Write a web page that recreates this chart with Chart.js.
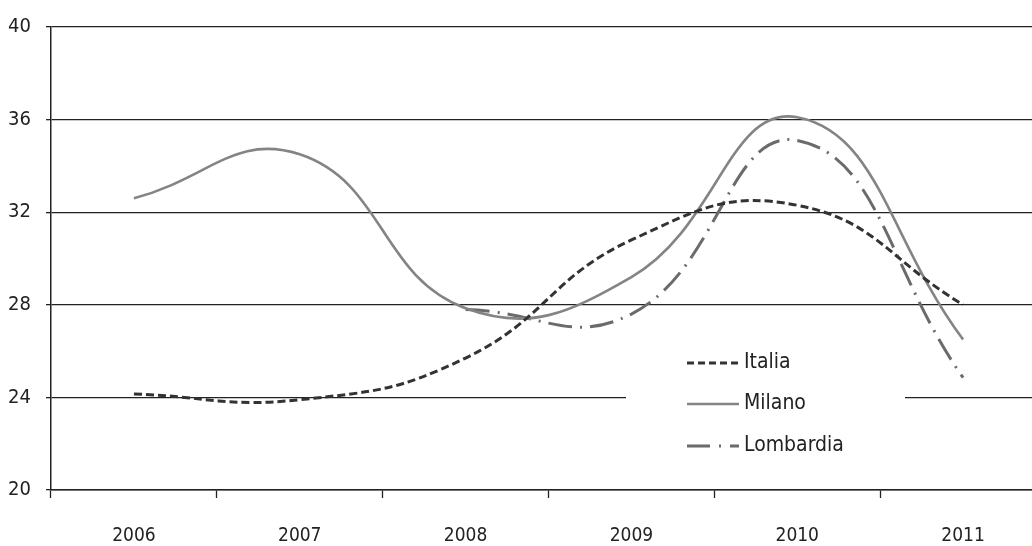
<!DOCTYPE html>
<html>
<head>
<meta charset="utf-8">
<script src="https://cdn.jsdelivr.net/npm/chart.js@4.4.1/dist/chart.umd.min.js"></script>
<style>
  html, body { margin: 0; padding: 0; background: #fff; overflow: hidden; }
  #wrap { width: 1046px; height: 546px; position: relative; }
</style>
</head>
<body>
<div id="wrap"><canvas id="c"></canvas></div>
<script>
const years = ['2006', '2007', '2008', '2009', '2010', '2011'];
const italia = [24.15, 23.9, 25.7, 30.8, 32.3, 28.0];
const milano = [32.6, 34.5, 27.85, 29.2, 36.1, 26.5];
const lombardia = [null, null, 27.8, 27.6, 35.1, 24.85];
const yTicks = [20, 24, 28, 32, 36, 40];

const FONT = '"Liberation Sans Narrow", "DejaVu Sans Condensed", "Liberation Sans", sans-serif';
const INK = '#222222';

const seriesStyle = {
  Italia:    { color: '#333333', width: 3,   dash: [8, 4],         legendDash: [7, 4] },
  Milano:    { color: '#848484', width: 2.6, dash: [],             legendDash: [] },
  Lombardia: { color: '#6b6b6b', width: 3,   dash: [24, 8, 2, 8],  legendDash: [23, 9, 2, 9] }
};

function makeSet(label, data) {
  const s = seriesStyle[label];
  return {
    label, data,
    borderColor: s.color,
    borderWidth: s.width,
    borderDash: s.dash,
    borderCapStyle: 'butt',
    pointRadius: 0,
    pointHoverRadius: 0,
    fill: false,
    tension: 0.45,
    spanGaps: false
  };
}

// Legend drawn inside the plot on a white panel that interrupts the 24 grid line
const insideLegend = {
  id: 'insideLegend',
  afterDatasetsDraw(chart) {
    const ctx = chart.ctx;
    const y = chart.scales.y;
    const x0 = 626, x1 = 905;
    ctx.save();
    ctx.fillStyle = '#ffffff';
    ctx.fillRect(x0, y.getPixelForValue(25.8), x1 - x0, y.getPixelForValue(21.2) - y.getPixelForValue(25.8));
    const rows = [['Italia', 363], ['Milano', 404], ['Lombardia', 446]];
    rows.forEach(([name, cy]) => {
      const s = seriesStyle[name];
      ctx.beginPath();
      ctx.strokeStyle = s.color;
      ctx.lineWidth = s.width;
      ctx.lineCap = 'butt';
      ctx.setLineDash(s.legendDash);
      ctx.moveTo(687, cy);
      ctx.lineTo(739, cy);
      ctx.stroke();
      ctx.setLineDash([]);
      ctx.fillStyle = INK;
      ctx.font = '21px ' + FONT;
      ctx.textAlign = 'left';
      ctx.textBaseline = 'middle';
      ctx.fillText(name, 744, cy);
    });
    ctx.restore();
  }
};

new Chart(document.getElementById('c'), {
  type: 'line',
  data: {
    labels: years,
    datasets: [makeSet('Italia', italia), makeSet('Milano', milano), makeSet('Lombardia', lombardia)]
  },
  options: {
    responsive: true,
    maintainAspectRatio: false,
    animation: false,
    events: [],
    layout: { padding: { top: 21, right: 0, left: 0, bottom: 0 } },
    plugins: { legend: { display: false }, tooltip: { enabled: false } },
    scales: {
      x: {
        type: 'category',
        offset: true,
        grid: {
          offset: true,
          drawOnChartArea: false,
          drawTicks: true,
          tickLength: 8,
          tickColor: INK,
          tickWidth: 1.3
        },
        border: { display: true, color: INK, width: 1.5 },
        ticks: { color: INK, font: { family: FONT, size: 19 }, padding: 27, maxRotation: 0 },
        afterFit(scale) { scale.height = 56; }
      },
      y: {
        min: 20,
        max: 40,
        afterBuildTicks(scale) { scale.ticks = yTicks.map(v => ({ value: v })); },
        grid: {
          color: INK,
          lineWidth: 1.3,
          drawTicks: true,
          tickLength: 5,
          tickColor: INK
        },
        border: { display: true, color: INK, width: 1.5 },
        ticks: { color: INK, font: { family: FONT, size: 20 }, padding: 15 },
        afterFit(scale) { scale.width = 51; }
      }
    }
  },
  plugins: [insideLegend]
});
</script>
</body>
</html>
